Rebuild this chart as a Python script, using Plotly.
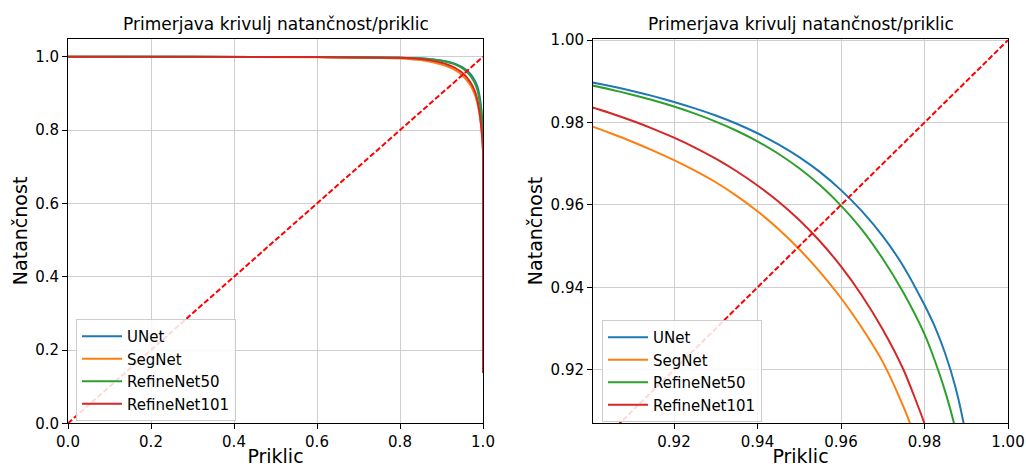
import plotly.graph_objects as go

# ---- data ----
models = ["UNet", "SegNet", "RefineNet50", "RefineNet101"]
colors = ["#1f77b4", "#ff7f0e", "#2ca02c", "#d62728"]

unet_recall = [0.0, 0.3, 0.6, 0.8, 0.85, 0.88,
               0.9, 0.905, 0.91, 0.915, 0.92, 0.925, 0.93, 0.935, 0.94, 0.945, 0.95, 0.955,
               0.96, 0.965, 0.97, 0.975, 0.98,
               0.9825, 0.985, 0.9875, 0.99, 0.993, 0.996, 0.998, 0.9995, 1.0, 1.0]
unet_precision = [1.0, 0.9999, 0.9993, 0.9978, 0.9958, 0.9930,
                  0.9898, 0.9888, 0.98767, 0.98641, 0.9850, 0.98344, 0.9817, 0.97971, 0.9774,
                  0.97472, 0.97162, 0.96796, 0.9636, 0.95851, 0.95244, 0.94502, 0.9357,
                  0.93039, 0.92381, 0.91546, 0.9037, 0.884, 0.857, 0.831, 0.804, 0.790, 0.137]

segnet_recall = [0.0, 0.3, 0.6, 0.8, 0.85, 0.88,
                 0.9, 0.905, 0.91, 0.915, 0.92, 0.925, 0.93, 0.935, 0.94, 0.945, 0.95, 0.955,
                 0.96, 0.965, 0.97, 0.975,
                 0.9775, 0.98, 0.985, 0.99, 0.995, 0.998, 0.9995, 1.0, 1.0]
segnet_precision = [1.0, 0.9998, 0.9990, 0.9957, 0.9912, 0.9852,
                    0.9792, 0.97735, 0.97535, 0.9732, 0.97088, 0.96833, 0.96551, 0.96221, 0.95846,
                    0.95416, 0.94926, 0.94371, 0.93741, 0.93021, 0.92191, 0.91091,
                    0.90441, 0.89716, 0.8792, 0.8542, 0.8167, 0.7837, 0.7597, 0.750, 0.137]

rn50_recall = [0.0, 0.3, 0.6, 0.8, 0.85, 0.88,
               0.9, 0.905, 0.91, 0.915, 0.92, 0.925, 0.93, 0.935, 0.94, 0.945, 0.95, 0.955,
               0.96, 0.965, 0.97, 0.975, 0.98,
               0.9825, 0.985, 0.9875, 0.99, 0.993, 0.996, 0.998, 0.9995, 1.0, 1.0]
rn50_precision = [1.0, 0.9999, 0.9992, 0.9976, 0.9955, 0.9926,
                  0.98909, 0.98798, 0.98676, 0.9854, 0.98388, 0.98217, 0.98024, 0.97801, 0.97543,
                  0.97242, 0.9689, 0.96475, 0.95983, 0.95402, 0.94693, 0.93862, 0.92865,
                  0.92213, 0.91456, 0.90512, 0.891, 0.870, 0.842, 0.815, 0.788, 0.775, 0.137]

rn101_recall = [0.0, 0.3, 0.6, 0.8, 0.85, 0.88,
                0.9, 0.905, 0.91, 0.915, 0.92, 0.925, 0.93, 0.935, 0.94, 0.945, 0.95, 0.955,
                0.96, 0.965, 0.97, 0.975, 0.98,
                0.983, 0.987, 0.991, 0.995, 0.998, 0.9995, 1.0, 1.0]
rn101_precision = [1.0, 0.9999, 0.9992, 0.9975, 0.9941, 0.9890,
                   0.9838, 0.9822, 0.98043, 0.97848, 0.97633, 0.97393, 0.97123, 0.96818, 0.96473,
                   0.96083, 0.95633, 0.95113, 0.94508, 0.93803, 0.92978, 0.91993, 0.90693,
                   0.897, 0.879, 0.853, 0.817, 0.778, 0.751, 0.740, 0.137]

diag = [0.0, 1.0]

left_ticks = [0.0, 0.2, 0.4, 0.6, 0.8, 1.0]
right_ticks = [0.92, 0.94, 0.96, 0.98, 1.00]

title_text = "Primerjava krivulj natančnost/priklic"
xlabel = "Priklic"
ylabel = "Natančnost"

recalls = [unet_recall, segnet_recall, rn50_recall, rn101_recall]
precisions = [unet_precision, segnet_precision, rn50_precision, rn101_precision]

FONT = "DejaVu Sans"
W, H = 1026, 467

fig = go.Figure()
for panel, (xa, ya, lg) in enumerate([("x", "y", "legend"), ("x2", "y2", "legend2")]):
    for name, col, r, p in zip(models, colors, recalls, precisions):
        fig.add_trace(go.Scatter(x=r, y=p, mode="lines", name=name,
                                 line=dict(color=col, width=2, shape="spline", smoothing=0.6),
                                 xaxis=xa, yaxis=ya, legend=lg))
    fig.add_trace(go.Scatter(x=diag, y=diag, mode="lines", showlegend=False,
                             line=dict(color="red", width=2, dash="5.5px,2.4px"),
                             xaxis=xa, yaxis=ya))

# pixel geometry
L_x0, L_x1 = 68, 483
R_x0, R_x1 = 593, 1008
Y_top, Y_bot = 38.5, 423.3

def px(v):
    return v / W

def py(v):
    return 1 - v / H

axis_common = dict(showline=True, linecolor="black", linewidth=1, mirror=True,
                   ticks="outside", ticklen=5, tickcolor="black", tickwidth=1,
                   showgrid=True, gridcolor="#cfcfcf", gridwidth=1, zeroline=False,
                   tickfont=dict(family=FONT, size=15, color="black"),
                   automargin=False)

legend_common = dict(xanchor="left", yanchor="top", itemwidth=40,
                     bgcolor="rgba(255,255,255,0.85)", bordercolor="#cccccc", borderwidth=1,
                     font=dict(family=FONT, size=15, color="black"))

fig.update_layout(
    width=W, height=H,
    margin=dict(l=0, r=0, t=0, b=0),
    paper_bgcolor="white", plot_bgcolor="white",
    font=dict(family=FONT, color="black"),
    xaxis=dict(domain=[px(L_x0), px(L_x1)], range=[0, 1], tickvals=left_ticks,
               tickformat=".1f", anchor="y",
               title=dict(text=xlabel, font=dict(size=19), standoff=4), **axis_common),
    yaxis=dict(domain=[py(Y_bot), py(Y_top)], range=[0, 1.05], tickvals=left_ticks,
               tickformat=".1f", anchor="x",
               title=dict(text=ylabel, font=dict(size=19), standoff=2), **axis_common),
    xaxis2=dict(domain=[px(R_x0), px(R_x1)], range=[0.9006, 1.0], tickvals=right_ticks,
                tickformat=".2f", anchor="y2",
                title=dict(text=xlabel, font=dict(size=19), standoff=4), **axis_common),
    yaxis2=dict(domain=[py(Y_bot), py(Y_top)], range=[0.907, 1.0004], tickvals=right_ticks,
                tickformat=".2f", anchor="x2",
                title=dict(text=ylabel, font=dict(size=19), standoff=2), **axis_common),
    legend=dict(x=px(76), y=py(319), **legend_common),
    legend2=dict(x=px(602), y=py(320), **legend_common),
    annotations=[
        dict(text=title_text, x=px((L_x0 + L_x1) / 2), y=py(24), xref="paper", yref="paper",
             showarrow=False, xanchor="center", yanchor="middle",
             font=dict(family=FONT, size=17, color="black")),
        dict(text=title_text, x=px((R_x0 + R_x1) / 2), y=py(24), xref="paper", yref="paper",
             showarrow=False, xanchor="center", yanchor="middle",
             font=dict(family=FONT, size=17, color="black")),
    ],
)

fig.write_html("out.html", config={"displayModeBar": False},
               post_script="document.body.style.margin='0';document.body.style.overflow='hidden';")
